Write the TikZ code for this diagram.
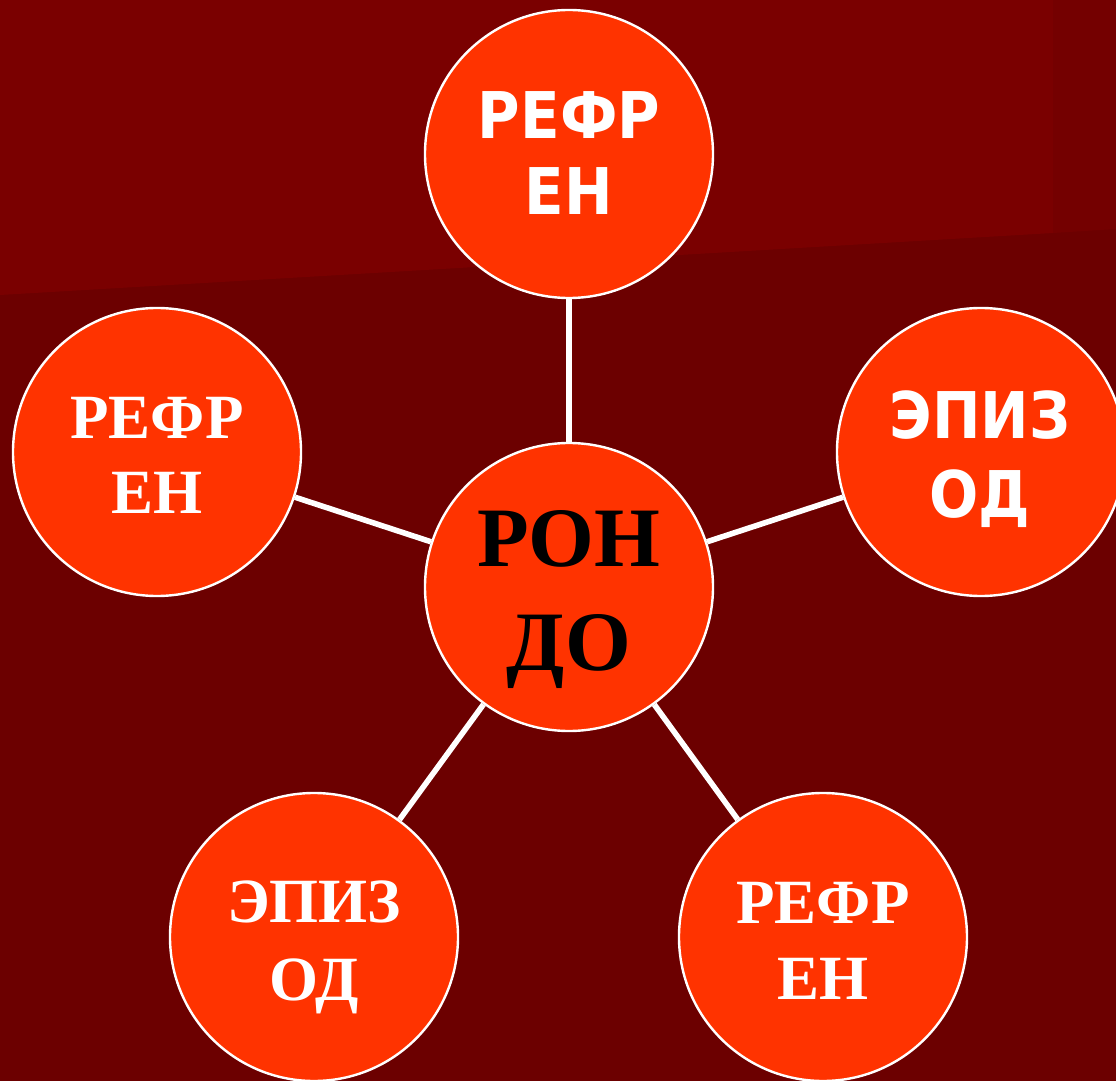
\documentclass[tikz,border=0pt]{standalone}
\usepackage{fontspec}
\newfontfamily\sansb[FakeStretch=0.9]{DejaVu Sans}
\newfontfamily\serifb{Liberation Serif}
\definecolor{bgbase}{HTML}{6C0000}
\definecolor{bglight}{HTML}{7A0000}
\definecolor{bgright}{HTML}{740000}
\definecolor{bubfill}{HTML}{FF3300}
\tikzset{
  bub/.style={circle, fill=bubfill, draw=white, line width=1.2pt, minimum size=144pt, inner sep=0pt},
  link/.style={draw=white, line width=2.8pt},
  wsans/.style={text=white, anchor=base, inner sep=0pt, font=\sansb\bfseries\fontsize{32.2pt}{38pt}\selectfont},
  wserif/.style={text=white, anchor=base, inner sep=0pt, font=\serifb\bfseries\fontsize{31.5pt}{38pt}\selectfont},
  bserif/.style={text=black, anchor=base, inner sep=0pt, font=\serifb\bfseries\fontsize{42.3pt}{51pt}\selectfont}
}
\begin{document}
\begin{tikzpicture}[x=0.5pt, y=-0.5pt]
\useasboundingbox (0,0) rectangle (1116,1081);
\clip (0,0) rectangle (1116,1081);
% background
\fill[bgbase] (0,0) rectangle (1116,1081);
\fill[bglight] (0,0) -- (1053,0) -- (1053,233) -- (0,295) -- cycle;
\fill[bgright] (1053,0) -- (1116,0) -- (1116,229) -- (1053,233) -- cycle;
% connectors
\coordinate (cc) at (569,587);
\node[bub] (t)  at (569,154) {};
\node[bub] (l)  at (157,452) {};
\node[bub] (r)  at (981,452) {};
\node[bub] (bl) at (314,937) {};
\node[bub] (br) at (823,937) {};
\node[bub] (c)  at (cc) {};
\draw[link] (c) -- (t);
\draw[link] (c) -- (l);
\draw[link] (c) -- (r);
\draw[link] (c) -- (bl);
\draw[link] (c) -- (br);
% texts
\node[bserif] (c1) at (569,567) {РОН};
\node[bserif] (c2) at (569,670) {ДО};
\node[wsans] (t1) at (569,139) {РЕФР};
\node[wsans] (t2) at (569,215) {ЕН};
\node[wsans] (r1) at (980,438) {ЭПИЗ};
\node[wsans] (r2) at (980,517) {ОД};
\node[wserif] (l1) at (157,438) {РЕФР};
\node[wserif] (l2) at (157,514) {ЕН};
\node[wserif] (bl1) at (314,922) {ЭПИЗ};
\node[wserif] (bl2) at (314,1000) {ОД};
\node[wserif] (br1) at (823,923) {РЕФР};
\node[wserif] (br2) at (823,999) {ЕН};
\end{tikzpicture}
\end{document}
